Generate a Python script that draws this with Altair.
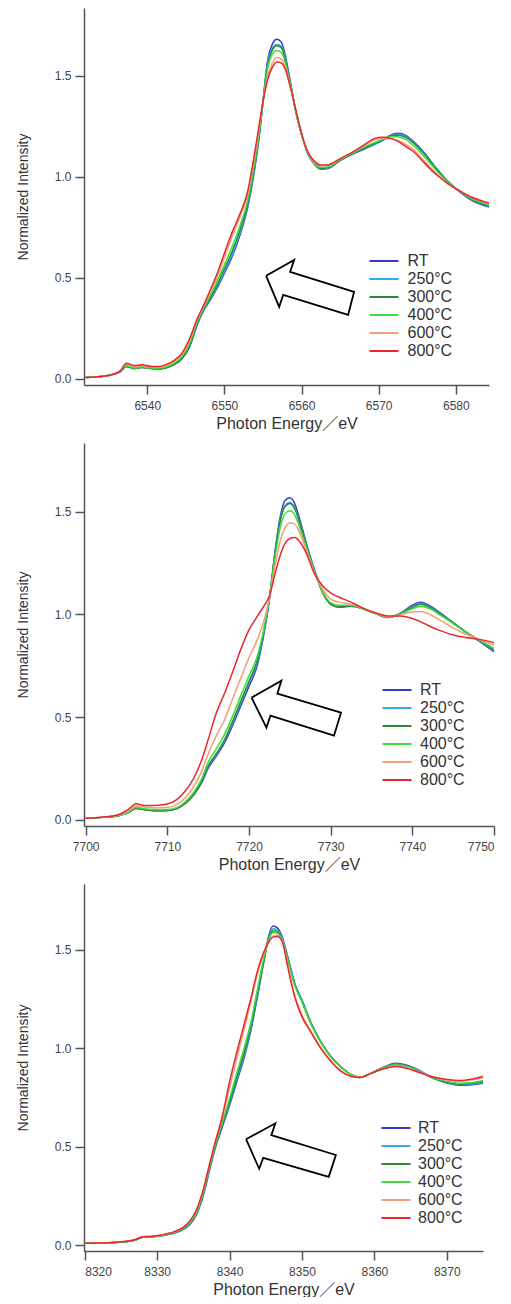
import altair as alt
import pandas as pd

SERIES = ["RT", "250°C", "300°C", "400°C", "600°C", "800°C"]
COLORS = ["#3a3ac8", "#33aaee", "#2e8b2e", "#3ddc3d", "#f59c7a", "#e8282d"]

# ---------------- Panel 1 ----------------
p1_energy = [6532, 6534, 6535.5, 6536.5, 6537.3, 6538.3, 6539.3, 6540.5, 6541.5, 6542.5,
             6543.5, 6544.5, 6545.5, 6546.5, 6547.2, 6548, 6549, 6550, 6551, 6552,
             6553, 6553.7, 6554.4, 6555, 6555.6, 6556.2, 6556.8, 6557.4, 6558, 6558.6,
             6559.3, 6560, 6560.8, 6561.6, 6562.5, 6563.5, 6565, 6566.5, 6568, 6569.5,
             6570.5, 6571.5, 6572.5, 6573.5, 6574.5, 6576, 6577.5, 6579, 6580.5, 6582, 6584.3]
p1_rt = [0.007, 0.012, 0.022, 0.035, 0.062, 0.052, 0.058, 0.052, 0.050, 0.056,
         0.072, 0.10, 0.16, 0.27, 0.33, 0.38, 0.445, 0.523, 0.605, 0.71,
         0.845, 0.985, 1.165, 1.37, 1.575, 1.655, 1.68, 1.665, 1.58, 1.46,
         1.315, 1.21, 1.115, 1.065, 1.037, 1.042, 1.08, 1.11, 1.135, 1.16,
         1.18, 1.205, 1.215, 1.205, 1.175, 1.115, 1.04, 0.975, 0.925, 0.885, 0.85]
p1_250 = [0.007, 0.012, 0.022, 0.035, 0.063, 0.053, 0.059, 0.053, 0.051, 0.057,
          0.074, 0.103, 0.165, 0.275, 0.333, 0.385, 0.452, 0.532, 0.615, 0.72,
          0.855, 0.995, 1.17, 1.37, 1.565, 1.635, 1.655, 1.645, 1.57, 1.455,
          1.315, 1.21, 1.117, 1.067, 1.04, 1.045, 1.082, 1.112, 1.138, 1.162,
          1.18, 1.2, 1.21, 1.2, 1.172, 1.112, 1.04, 0.976, 0.927, 0.888, 0.853]
p1_300 = [0.007, 0.012, 0.022, 0.036, 0.062, 0.051, 0.057, 0.051, 0.049, 0.055,
          0.072, 0.101, 0.165, 0.278, 0.336, 0.39, 0.462, 0.545, 0.63, 0.735,
          0.865, 1.005, 1.18, 1.37, 1.555, 1.625, 1.648, 1.638, 1.565, 1.45,
          1.315, 1.21, 1.118, 1.068, 1.042, 1.047, 1.083, 1.113, 1.14, 1.165,
          1.182, 1.2, 1.205, 1.195, 1.168, 1.108, 1.038, 0.975, 0.928, 0.89, 0.856]
p1_400 = [0.007, 0.012, 0.022, 0.037, 0.065, 0.054, 0.06, 0.054, 0.053, 0.06,
          0.078, 0.11, 0.175, 0.285, 0.342, 0.4, 0.478, 0.565, 0.655, 0.755,
          0.88, 1.02, 1.19, 1.37, 1.535, 1.605, 1.625, 1.615, 1.55, 1.445,
          1.318, 1.212, 1.12, 1.07, 1.047, 1.05, 1.085, 1.115, 1.145, 1.17,
          1.185, 1.198, 1.198, 1.185, 1.155, 1.095, 1.03, 0.972, 0.93, 0.893, 0.86]
p1_600 = [0.007, 0.012, 0.022, 0.039, 0.074, 0.062, 0.067, 0.059, 0.059, 0.068,
          0.088, 0.122, 0.192, 0.295, 0.35, 0.415, 0.5, 0.6, 0.705, 0.8,
          0.91, 1.05, 1.215, 1.37, 1.495, 1.56, 1.59, 1.582, 1.53, 1.44,
          1.322, 1.214, 1.123, 1.076, 1.055, 1.057, 1.088, 1.118, 1.152, 1.183,
          1.19, 1.19, 1.18, 1.16, 1.135, 1.075, 1.015, 0.966, 0.93, 0.898, 0.866]
p1_800 = [0.007, 0.012, 0.022, 0.04, 0.078, 0.066, 0.07, 0.062, 0.062, 0.072,
          0.092, 0.128, 0.2, 0.3, 0.355, 0.425, 0.515, 0.622, 0.725, 0.815,
          0.925, 1.068, 1.23, 1.37, 1.48, 1.54, 1.568, 1.562, 1.52, 1.435,
          1.325, 1.215, 1.125, 1.08, 1.058, 1.06, 1.09, 1.12, 1.155, 1.19,
          1.196, 1.19, 1.175, 1.15, 1.125, 1.065, 1.01, 0.965, 0.93, 0.9, 0.87]
p1_arrow_x = [6555.41, 6559.04, 6558.52, 6566.81, 6566.04, 6557.62, 6557.10, 6555.41]
p1_arrow_y = [0.510, 0.589, 0.530, 0.431, 0.317, 0.416, 0.356, 0.510]
p1_ticks = [6540, 6550, 6560, 6570, 6580]

# ---------------- Panel 2 ----------------
p2_energy = [7700, 7702, 7704, 7705.2, 7706.2, 7707.2, 7708.5, 7710, 7711.2, 7712.2,
             7713.2, 7714.2, 7715, 7716, 7717, 7718, 7719, 7720, 7721, 7721.8,
             7722.5, 7723.2, 7723.8, 7724.4, 7725, 7725.6, 7726.2, 7727, 7728, 7729,
             7730, 7731, 7732.5, 7734, 7735.5, 7737, 7738.5, 7740, 7741, 7742,
             7743.5, 7745, 7746.5, 7748, 7750]
p2_rt = [0.008, 0.012, 0.02, 0.035, 0.056, 0.05, 0.044, 0.046, 0.055, 0.08,
         0.12, 0.18, 0.25, 0.31, 0.375, 0.46, 0.555, 0.65, 0.75, 0.9,
         1.07, 1.31, 1.47, 1.554, 1.568, 1.54, 1.465, 1.35, 1.22, 1.11,
         1.05, 1.035, 1.04, 1.028, 1.005, 0.985, 1.005, 1.045, 1.06, 1.045,
         1.005, 0.96, 0.915, 0.875, 0.818]
p2_250 = [0.008, 0.012, 0.02, 0.035, 0.056, 0.05, 0.045, 0.047, 0.056, 0.082,
          0.123, 0.185, 0.258, 0.318, 0.385, 0.472, 0.568, 0.665, 0.765, 0.91,
          1.08, 1.305, 1.455, 1.53, 1.545, 1.52, 1.45, 1.342, 1.218, 1.11,
          1.05, 1.037, 1.042, 1.028, 1.005, 0.986, 1.005, 1.04, 1.055, 1.04,
          1.002, 0.96, 0.917, 0.877, 0.822]
p2_300 = [0.008, 0.012, 0.02, 0.034, 0.055, 0.049, 0.044, 0.046, 0.055, 0.081,
          0.122, 0.186, 0.262, 0.322, 0.39, 0.48, 0.578, 0.675, 0.775, 0.915,
          1.08, 1.3, 1.45, 1.525, 1.54, 1.515, 1.447, 1.34, 1.215, 1.108,
          1.05, 1.037, 1.042, 1.027, 1.004, 0.986, 1.003, 1.035, 1.05, 1.037,
          1.0, 0.958, 0.917, 0.878, 0.826]
p2_400 = [0.008, 0.012, 0.021, 0.037, 0.06, 0.054, 0.049, 0.05, 0.06, 0.088,
          0.132, 0.2, 0.28, 0.345, 0.415, 0.505, 0.605, 0.7, 0.795, 0.925,
          1.08, 1.28, 1.42, 1.49, 1.505, 1.485, 1.425, 1.33, 1.21, 1.112,
          1.058, 1.045, 1.045, 1.028, 1.004, 0.987, 1.0, 1.028, 1.04, 1.03,
          0.995, 0.955, 0.915, 0.88, 0.835]
p2_600 = [0.008, 0.013, 0.023, 0.043, 0.068, 0.062, 0.058, 0.06, 0.075, 0.108,
          0.16, 0.235, 0.32, 0.41, 0.485, 0.59, 0.69, 0.79, 0.875, 0.965,
          1.08, 1.24, 1.355, 1.42, 1.445, 1.44, 1.4, 1.315, 1.205, 1.125,
          1.075, 1.06, 1.05, 1.03, 1.006, 0.99, 0.998, 1.012, 1.015, 1.003,
          0.97, 0.935, 0.905, 0.882, 0.85]
p2_800 = [0.008, 0.013, 0.025, 0.05, 0.078, 0.07, 0.07, 0.077, 0.1, 0.14,
          0.2, 0.29, 0.39, 0.52, 0.615, 0.72, 0.83, 0.925, 0.99, 1.04,
          1.09, 1.2, 1.285, 1.345, 1.37, 1.375, 1.355, 1.3, 1.2, 1.14,
          1.105, 1.085, 1.06, 1.03, 1.008, 0.993, 0.993, 0.98, 0.965, 0.945,
          0.92, 0.9, 0.888, 0.88, 0.863]
p2_arrow_x = [7720.32, 7723.97, 7723.48, 7731.27, 7730.41, 7722.63, 7722.14, 7720.32]
p2_arrow_y = [0.595, 0.678, 0.615, 0.522, 0.410, 0.507, 0.449, 0.595]
p2_ticks = [7700, 7710, 7720, 7730, 7740, 7750]

# ---------------- Panel 3 ----------------
p3_energy = [8320, 8323, 8325.5, 8327, 8328, 8329, 8330, 8331.3, 8332.5, 8333.5,
             8334.5, 8335.5, 8336.4, 8337.3, 8338, 8339, 8340, 8341, 8342, 8343,
             8343.8, 8344.7, 8345.4, 8346, 8346.6, 8347.3, 8348, 8349, 8350, 8351.2,
             8352.6, 8354, 8355.4, 8356.8, 8358, 8359.6, 8361.5, 8363, 8364.5, 8366,
             8368, 8370, 8371.7, 8373.5, 8375]
p3_rt = [0.01, 0.012, 0.017, 0.026, 0.04, 0.042, 0.045, 0.053, 0.063, 0.078,
         0.105, 0.16, 0.255, 0.39, 0.49, 0.6, 0.71, 0.83, 0.95, 1.1,
         1.252, 1.436, 1.57, 1.621, 1.612, 1.562, 1.47, 1.33, 1.245, 1.134,
         1.034, 0.958, 0.905, 0.866, 0.852, 0.874, 0.908, 0.924, 0.914, 0.892,
         0.85, 0.824, 0.812, 0.815, 0.824]
p3_250 = [0.01, 0.012, 0.017, 0.026, 0.04, 0.042, 0.045, 0.053, 0.064, 0.08,
          0.108, 0.165, 0.262, 0.398, 0.497, 0.61, 0.72, 0.843, 0.962, 1.11,
          1.26, 1.435, 1.56, 1.608, 1.602, 1.555, 1.465, 1.328, 1.243, 1.132,
          1.033, 0.957, 0.905, 0.866, 0.853, 0.874, 0.906, 0.92, 0.912, 0.89,
          0.85, 0.826, 0.815, 0.818, 0.828]
p3_300 = [0.01, 0.012, 0.017, 0.026, 0.04, 0.042, 0.045, 0.053, 0.064, 0.08,
          0.11, 0.168, 0.265, 0.4, 0.5, 0.615, 0.728, 0.855, 0.975, 1.12,
          1.27, 1.44, 1.555, 1.598, 1.593, 1.548, 1.46, 1.325, 1.24, 1.13,
          1.032, 0.956, 0.905, 0.866, 0.853, 0.874, 0.905, 0.918, 0.91, 0.888,
          0.85, 0.828, 0.818, 0.822, 0.832]
p3_400 = [0.01, 0.012, 0.017, 0.027, 0.041, 0.043, 0.046, 0.055, 0.066, 0.083,
          0.113, 0.172, 0.27, 0.405, 0.505, 0.625, 0.745, 0.875, 1.0, 1.14,
          1.29, 1.455, 1.55, 1.588, 1.585, 1.545, 1.455, 1.32, 1.235, 1.126,
          1.03, 0.955, 0.904, 0.866, 0.853, 0.874, 0.904, 0.916, 0.908, 0.886,
          0.852, 0.832, 0.822, 0.826, 0.836]
p3_600 = [0.01, 0.012, 0.018, 0.028, 0.042, 0.044, 0.047, 0.056, 0.069, 0.087,
          0.12, 0.182, 0.282, 0.417, 0.517, 0.648, 0.8, 0.95, 1.095, 1.245,
          1.37, 1.48, 1.54, 1.57, 1.573, 1.545, 1.43, 1.27, 1.17, 1.09,
          1.005, 0.937, 0.886, 0.859, 0.852, 0.874, 0.9, 0.91, 0.902, 0.883,
          0.856, 0.84, 0.832, 0.84, 0.85]
p3_800 = [0.01, 0.012, 0.018, 0.028, 0.043, 0.044, 0.048, 0.057, 0.07, 0.088,
          0.122, 0.185, 0.285, 0.42, 0.52, 0.655, 0.83, 0.98, 1.12, 1.262,
          1.386, 1.487, 1.54, 1.565, 1.568, 1.54, 1.42, 1.26, 1.16, 1.084,
          1.0, 0.933, 0.883, 0.857, 0.852, 0.874, 0.899, 0.908, 0.898, 0.88,
          0.855, 0.842, 0.836, 0.844, 0.857]
p3_arrow_x = [8342.28, 8346.32, 8345.77, 8354.68, 8353.70, 8344.65, 8344.09, 8342.28]
p3_arrow_y = [0.538, 0.619, 0.559, 0.458, 0.347, 0.443, 0.388, 0.538]
p3_ticks = [8320, 8330, 8340, 8350, 8360, 8370]

Y_TICKS = [0, 0.5, 1.0, 1.5]
Y_DOMAIN = [-0.03, 1.835]
FONT = "Liberation Sans"
TITLE_FONT = "Liberation Sans, Noto Sans CJK JP"


def panel(energy, curves, arrow_x, arrow_y, x_domain, x_ticks, width, height,
          legend_x, legend_y, label_offset):
    rows = []
    for k, (name, vals) in enumerate(zip(SERIES, curves)):
        for e, v in zip(energy, vals):
            rows.append({"energy": e, "intensity": v, "series": name, "k": k})
    df = pd.DataFrame(rows)

    x_enc = alt.X("energy:Q",
                  scale=alt.Scale(domain=x_domain, nice=False, zero=False),
                  axis=alt.Axis(values=x_ticks, format="d",
                                titleFont=TITLE_FONT, titleFontSize=16,
                                titlePadding=4),
                  title="Photon Energy／eV")
    y_enc = alt.Y("intensity:Q",
                  scale=alt.Scale(domain=Y_DOMAIN, nice=False, zero=False),
                  axis=alt.Axis(values=Y_TICKS, format=".1f",
                                titleFontSize=14, titlePadding=24),
                  title="Normalized Intensity")

    lines = alt.Chart(df).mark_line(strokeWidth=1.5, interpolate="monotone").encode(
        x=x_enc,
        y=y_enc,
        color=alt.Color("series:N",
                        scale=alt.Scale(domain=SERIES, range=COLORS),
                        legend=alt.Legend(orient="none", legendX=legend_x, legendY=legend_y,
                                          title=None, symbolType="M-2.9,0H2.9",
                                          symbolSize=100, symbolStrokeWidth=2,
                                          labelFontSize=16, labelFont=FONT,
                                          labelColor="#333", labelOffset=label_offset,
                                          rowPadding=2, padding=0)),
        detail="k:N",
    )

    adf = pd.DataFrame({"energy": arrow_x, "intensity": arrow_y,
                        "o": list(range(len(arrow_x)))})
    arrow = alt.Chart(adf).mark_line(color="black", strokeWidth=1.8).encode(
        x=x_enc,
        y=y_enc,
        order="o:Q",
    )
    return alt.layer(lines, arrow).properties(width=width, height=height)


c1 = panel(p1_energy, [p1_rt, p1_250, p1_300, p1_400, p1_600, p1_800],
           p1_arrow_x, p1_arrow_y, [6531.8, 6584.3], p1_ticks, 405, 377,
           292, 245, 15.5)
c2 = panel(p2_energy, [p2_rt, p2_250, p2_300, p2_400, p2_600, p2_800],
           p2_arrow_x, p2_arrow_y, [7699.8, 7750], p2_ticks, 410, 383,
           305, 239, 15)
c3 = panel(p3_energy, [p3_rt, p3_250, p3_300, p3_400, p3_600, p3_800],
           p3_arrow_x, p3_arrow_y, [8319.9, 8375], p3_ticks, 399, 367,
           304, 236, 14)

chart = alt.vconcat(c1, c2, c3, spacing=12).resolve_scale(
    color="independent").resolve_legend(color="independent").properties(
    padding={"left": 8, "top": 0, "right": 0, "bottom": 0}
).configure(
    background="white",
).configure_view(
    stroke=None,
).configure_axis(
    grid=False,
    domainColor="#555",
    domainWidth=1.5,
    tickColor="#555",
    tickWidth=1.5,
    tickSize=9,
    labelFont=FONT,
    labelFontSize=12,
    labelColor="#444",
    titleFont=FONT,
    titleFontWeight="normal",
    titleColor="#333",
).configure_axisX(
    labelPadding=6,
).configure_axisY(
    labelPadding=4,
)

chart.save("out.html", embed_options={"renderer": "svg", "actions": False})
